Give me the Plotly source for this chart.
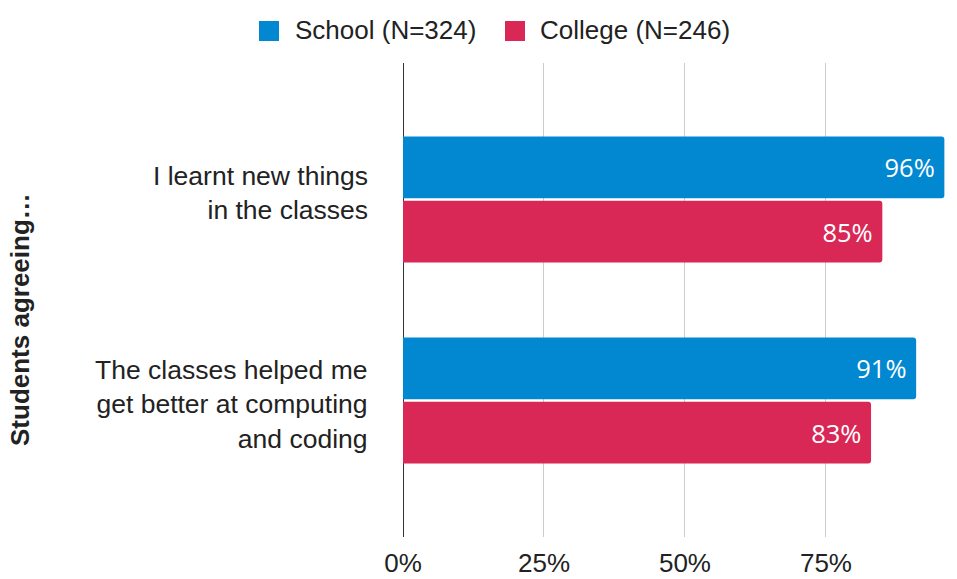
import plotly.graph_objects as go

# Survey statements (top to bottom) and share of students agreeing, in percent
statements = [
    "I learnt new things<br>in the classes",
    "The classes helped me<br>get better at computing<br>and coding",
]
school_pct = [96, 91]
college_pct = [85, 83]
series_names = ["School (N=324)", "College (N=246)"]
x_ticks = [0, 25, 50, 75]
x_tick_labels = ["0%", "25%", "50%", "75%"]

BLUE = "#0288D1"
RED = "#D92856"
TEXT = "#222222"
FONT = "Liberation Sans, Arial"
positions = list(range(len(statements)))
# small vertical nudges (px, up positive) for the category label blocks
label_nudges = [7, -4]

W, H = 957, 579
ML, MR, MT, MB = 403, 7, 63, 42
PW, PH = W - ML - MR, H - MT - MB


def px_x(px):
    """Pixel column -> paper x."""
    return (px - ML) / PW


def px_y(py):
    """Pixel row -> paper y."""
    return (H - MB - py) / PH


fig = go.Figure()
for name, vals, color in [(series_names[0], school_pct, BLUE),
                          (series_names[1], college_pct, RED)]:
    fig.add_trace(go.Bar(
        y=positions,
        x=vals,
        name=name,
        orientation="h",
        marker=dict(color=color, line=dict(width=0), cornerradius=3),
        text=[f"{v}%" for v in vals],
        texttemplate="%{text}&nbsp;",
        textposition="inside",
        insidetextanchor="end",
        textfont=dict(family="Open Sans", size=25.5, color="white"),
        showlegend=False,
    ))

shapes = []
annotations = []

# Category labels, right-aligned to the left of the plot
for pos, label, nudge in zip(positions, statements, label_nudges):
    annotations.append(dict(
        text=label, xref="paper", yref="y",
        x=px_x(370), y=pos, yshift=nudge,
        xanchor="right", yanchor="middle", align="right",
        showarrow=False,
        font=dict(family=FONT, size=26.5, color=TEXT),
    ))

# Legend: coloured squares with labels above the plot
legend_items = [(series_names[0], BLUE, 259, 293), (series_names[1], RED, 505, 538)]
for label, color, sq_left, txt_left in legend_items:
    shapes.append(dict(
        type="rect", xref="paper", yref="paper",
        x0=px_x(sq_left), x1=px_x(sq_left + 20),
        y0=px_y(41), y1=px_y(21),
        fillcolor=color, line=dict(width=0),
    ))
    annotations.append(dict(
        text=label, xref="paper", yref="paper",
        x=px_x(txt_left), y=px_y(30),
        xanchor="left", yanchor="middle", showarrow=False,
        font=dict(family=FONT, size=26, color=TEXT),
    ))

annotations.append(dict(
    text="<b>Students agreeing…</b>",
    textangle=-90,
    xref="paper", yref="paper",
    x=px_x(20), y=px_y(320),
    xanchor="center", yanchor="middle",
    showarrow=False,
    font=dict(family=FONT, size=26, color=TEXT),
))

fig.update_layout(
    width=W,
    height=H,
    margin=dict(l=ML, r=MR, t=MT, b=MB, autoexpand=False),
    paper_bgcolor="white",
    plot_bgcolor="white",
    font=dict(family=FONT, size=26, color=TEXT),
    barmode="group",
    bargap=0.36,
    bargroupgap=0.04,
    showlegend=False,
    xaxis=dict(
        range=[0, 97],
        tickvals=x_ticks,
        ticktext=x_tick_labels,
        showgrid=True,
        gridcolor="#CCCCCC",
        gridwidth=1,
        zeroline=True,
        zerolinecolor="#333333",
        zerolinewidth=1,
        showline=False,
        ticks="",
        ticklabelstandoff=8,
        automargin=False,
        tickfont=dict(family=FONT, size=26, color=TEXT),
    ),
    yaxis=dict(
        tickvals=positions,
        range=[1.68, -0.68],
        showgrid=False,
        zeroline=False,
        showline=False,
        ticks="",
        showticklabels=False,
        automargin=False,
    ),
    shapes=shapes,
    annotations=annotations,
)

fig.write_html("out.html")
